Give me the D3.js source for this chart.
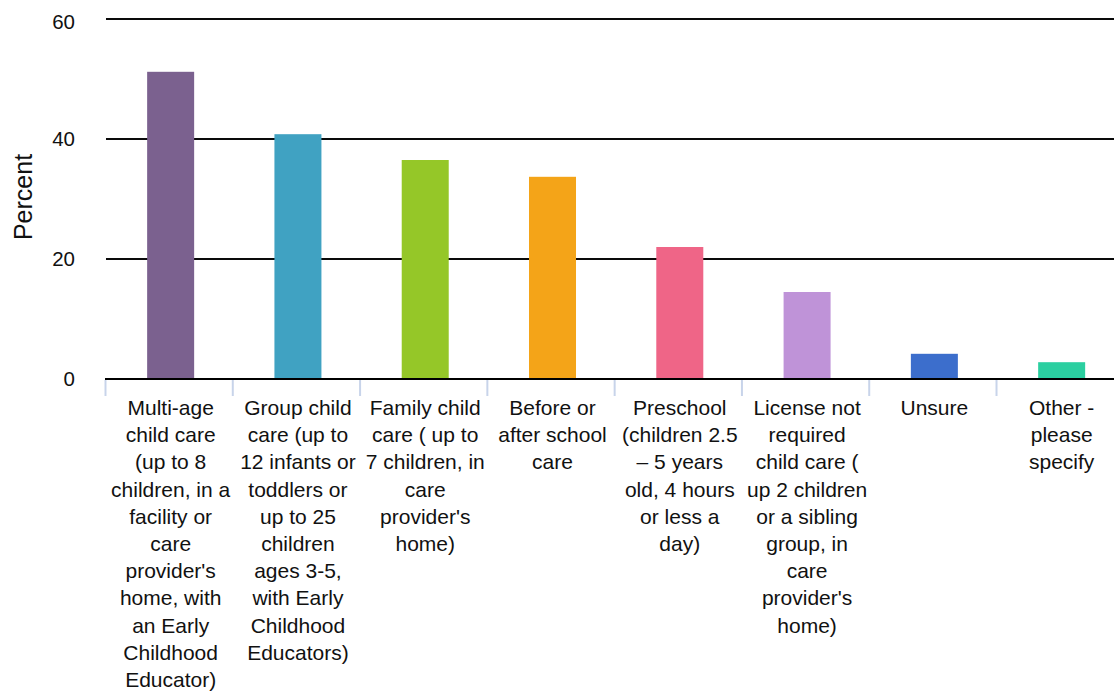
<!DOCTYPE html>
<html>
<head>
<meta charset="utf-8">
<script src="https://cdn.jsdelivr.net/npm/d3@7"></script>
<style>
  html, body { margin: 0; padding: 0; background: #fff; }
  svg { display: block; font-family: "Liberation Sans", Arial, Helvetica, sans-serif; }
</style>
</head>
<body>
<svg id="chart" width="1114" height="692"></svg>
<script>
// ---- data ----
const categories = [
  "Multi-age\nchild care\n(up to 8\nchildren, in a\nfacility or\ncare\nprovider's\nhome, with\nan Early\nChildhood\nEducator)",
  "Group child\ncare (up to\n12 infants or\ntoddlers or\nup to 25\nchildren\nages 3-5,\nwith Early\nChildhood\nEducators)",
  "Family child\ncare ( up to\n7 children, in\ncare\nprovider's\nhome)",
  "Before or\nafter school\ncare",
  "Preschool\n(children 2.5\n– 5 years\nold, 4 hours\nor less a\nday)",
  "License not\nrequired\nchild care (\nup 2 children\nor a sibling\ngroup, in\ncare\nprovider's\nhome)",
  "Unsure",
  "Other -\nplease\nspecify"
];
const values = [51.2, 40.8, 36.5, 33.7, 22.0, 14.5, 4.2, 2.8];
const colors = ["#7b618f", "#40a2c2", "#95c728", "#f4a418", "#ef6587", "#bf93d8", "#3c6ecc", "#2bcfa0"];
const yTicks = [0, 20, 40, 60];
const yTitle = "Percent";

// ---- layout ----
const W = 1114, H = 692;
const svg = d3.select("#chart");
const x = d3.scaleBand().domain(d3.range(categories.length)).range([107, 1125.3]).paddingInner(0).paddingOuter(0);
const y = d3.scaleLinear().domain([0, 60]).range([379, 19]);
const barW = 47;

// gridlines
svg.append("g").selectAll("line").data(yTicks.filter(d => d !== 0)).join("line")
  .attr("x1", 106).attr("x2", W)
  .attr("y1", d => y(d)).attr("y2", d => y(d))
  .attr("stroke", "#0a0a0a").attr("stroke-width", 1.8);

// y tick labels
svg.append("g").selectAll("text").data(yTicks).join("text")
  .attr("x", 75).attr("y", d => y(d) + 7 + (d === 60 ? 3 : 0))
  .attr("text-anchor", "end")
  .attr("font-size", 20.5).attr("fill", "#111")
  .text(d => d);

// y title
svg.append("text")
  .attr("transform", "translate(32,197) rotate(-90)")
  .attr("text-anchor", "middle")
  .attr("font-size", 25).attr("fill", "#111")
  .text(yTitle);

// bars
svg.append("g").selectAll("rect").data(values).join("rect")
  .attr("x", (d, i) => x(i) + x.bandwidth() / 2 - barW / 2)
  .attr("width", barW)
  .attr("y", d => y(d))
  .attr("height", d => y(0) - y(d))
  .attr("fill", (d, i) => colors[i]);

// x ticks
svg.append("g").selectAll("line").data(d3.range(categories.length)).join("line")
  .attr("x1", i => x(i) - 1.5).attr("x2", i => x(i) - 1.5)
  .attr("y1", 380).attr("y2", 396)
  .attr("stroke", "#c8d4ea").attr("stroke-width", 2);

// baseline
svg.append("line")
  .attr("x1", 105).attr("x2", W)
  .attr("y1", y(0)).attr("y2", y(0))
  .attr("stroke", "#000").attr("stroke-width", 2.2);

// x labels
const lab = svg.append("g").selectAll("text").data(categories).join("text")
  .attr("text-anchor", "middle")
  .attr("font-size", 21).attr("fill", "#111")
  .attr("transform", (d, i) => `translate(${x(i) + x.bandwidth() / 2},0)`);
lab.each(function(d) {
  const t = d3.select(this);
  d.split("\n").forEach((line, k) => {
    t.append("tspan").attr("x", 0).attr("y", 415 + k * 27.2).text(line);
  });
});
</script>
</body>
</html>
